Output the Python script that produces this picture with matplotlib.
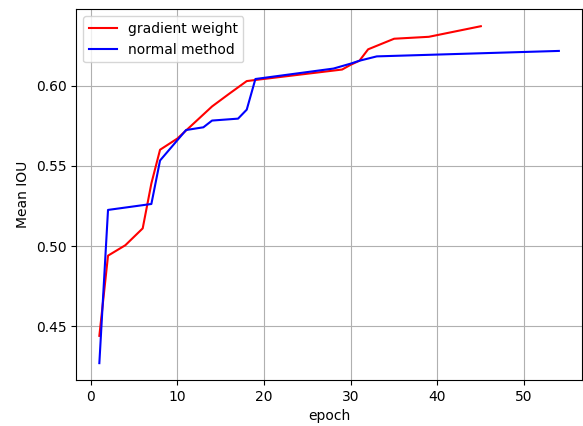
import matplotlib
matplotlib.use('Agg')
import matplotlib.pyplot as plt

# gradient weight run
grad_epochs = [1, 2, 4, 6, 7, 8, 10, 12, 14, 16, 18, 19, 29, 30, 31, 32, 35, 39, 45]
grad_iou = [0.444, 0.494, 0.5005, 0.511, 0.539, 0.560, 0.567, 0.577, 0.587, 0.595,
            0.6028, 0.6035, 0.6100, 0.6130, 0.6155, 0.6226, 0.6292, 0.6304, 0.6370]

# normal method run
norm_epochs = [1, 2, 7, 8, 11, 13, 14, 17, 18, 19, 28, 30, 31, 33, 54]
norm_iou = [0.427, 0.5225, 0.5262, 0.5533, 0.5723, 0.5740, 0.5782, 0.5794, 0.5850,
            0.6041, 0.6106, 0.6137, 0.6155, 0.6182, 0.6216]

fig = plt.figure(figsize=(5.83, 4.26), dpi=100)
ax = fig.add_axes([0.131, 0.108, 0.867, 0.870])

ax.plot(grad_epochs, grad_iou, color='r', label='gradient weight')
ax.plot(norm_epochs, norm_iou, color='b', label='normal method')

ax.set_xlabel('epoch')
ax.set_ylabel('Mean IOU')
ax.grid(True)
ax.legend(loc='upper left')

plt.savefig('out.png')
plt.close()
